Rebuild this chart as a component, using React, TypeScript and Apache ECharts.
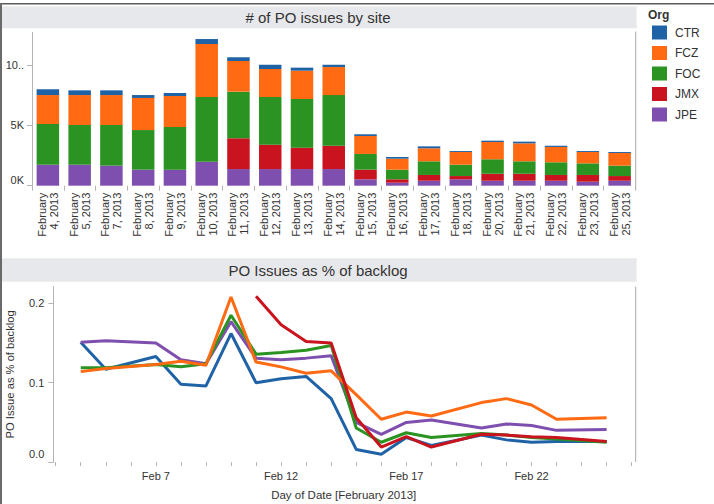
import React, { useEffect, useRef } from "react";
import * as echarts from "echarts";

const FONT = "'Liberation Sans', Arial, sans-serif";

// Dates present in the data (February 2013)
const dates = [
  "2013-02-04", "2013-02-05", "2013-02-07", "2013-02-08", "2013-02-09", "2013-02-10",
  "2013-02-11", "2013-02-12", "2013-02-13", "2013-02-14", "2013-02-15", "2013-02-16",
  "2013-02-17", "2013-02-18", "2013-02-20", "2013-02-21", "2013-02-22", "2013-02-23",
  "2013-02-25",
];

const orgs = ["CTR", "FCZ", "FOC", "JMX", "JPE"];
const orgColors = ["#1F62A6", "#FF6A13", "#2A9322", "#C9141F", "#7E4FAE"];

// # of PO issues by site (counts)
const issuesCTR = [480, 390, 390, 240, 250, 410, 310, 350, 250, 190, 140, 140, 160, 80, 110, 140, 100, 80, 80];
const issuesFCZ = [2400, 2480, 2480, 2660, 2570, 4390, 2540, 2320, 2350, 2320, 1490, 910, 1080, 1050, 1430, 1490, 1270, 940, 1050];
const issuesFOC = [3370, 3290, 3370, 3280, 3530, 5360, 3860, 3950, 4030, 4200, 1300, 800, 1130, 940, 1200, 1030, 1050, 960, 860];
const issuesJMX = [0, 0, 0, 0, 0, 0, 2550, 2020, 1770, 1930, 800, 280, 480, 270, 580, 580, 480, 560, 390];
const issuesJPE = [1740, 1740, 1660, 1330, 1330, 1990, 1380, 1380, 1380, 1380, 530, 250, 410, 530, 410, 410, 410, 330, 410];

// PO issues as % of backlog
const pctCTR = [0.151, 0.117, 0.133, 0.098, 0.096, 0.162, 0.100, 0.105, 0.108, 0.080, 0.016, 0.010, 0.031, 0.021, 0.034, 0.028, 0.025, 0.026, 0.026];
const pctFCZ = [0.114, 0.118, 0.123, 0.127, 0.122, 0.208, 0.126, 0.120, 0.112, 0.115, 0.085, 0.054, 0.063, 0.058, 0.075, 0.080, 0.072, 0.054, 0.056];
const pctFOC = [0.119, 0.119, 0.123, 0.120, 0.124, 0.185, 0.136, 0.138, 0.141, 0.147, 0.043, 0.025, 0.037, 0.031, 0.036, 0.034, 0.031, 0.029, 0.025];
const pctJMX = [null, null, null, null, null, null, 0.209, 0.173, 0.152, 0.150, 0.056, 0.019, 0.032, 0.019, 0.035, 0.034, 0.032, 0.031, 0.026];
const pctJPE = [0.151, 0.153, 0.150, 0.129, 0.124, 0.177, 0.131, 0.129, 0.131, 0.134, 0.050, 0.035, 0.050, 0.053, 0.043, 0.048, 0.046, 0.040, 0.041];

const topTicks = [0, 5000, 10000];
const topTickLabels = ["0K", "5K", "10.."];
const bottomTicks = [0, 0.1, 0.2];
const bottomTickLabels = ["0.0", "0.1", "0.2"];
const dayLabelDays = [7, 12, 17, 22];

const TITLE_TOP = "# of PO issues by site";
const TITLE_BOTTOM = "PO Issues as % of backlog";

export default function App() {
  const ref = useRef<HTMLDivElement>(null);

  useEffect(() => {
    if (!ref.current) return;
    const chart = echarts.init(ref.current, undefined, { renderer: "svg" });

    const days = dates.map((d) => parseInt(d.slice(8), 10));
    const catLabels = dates.map((d) => `February\n${parseInt(d.slice(8), 10)}, ${d.slice(0, 4)}`);

    const barData: Record<string, number[]> = {
      CTR: issuesCTR, FCZ: issuesFCZ, FOC: issuesFOC, JMX: issuesJMX, JPE: issuesJPE,
    };
    const lineData: Record<string, (number | null)[]> = {
      CTR: pctCTR, FCZ: pctFCZ, FOC: pctFOC, JMX: pctJMX, JPE: pctJPE,
    };
    const colorOf = (n: string) => orgColors[orgs.indexOf(n)];

    const stackOrder = ["JPE", "JMX", "FOC", "FCZ", "CTR"];
    const barSeries = stackOrder.map((n) => ({
      name: n,
      type: "bar",
      xAxisIndex: 0,
      yAxisIndex: 0,
      stack: "issues",
      barWidth: 22.5,
      itemStyle: { color: colorOf(n) },
      data: barData[n],
    }));

    const lineOrder = ["CTR", "JPE", "FOC", "FCZ", "JMX"];
    const lineSeries = lineOrder.map((n) => ({
      name: n,
      type: "line",
      xAxisIndex: 1,
      yAxisIndex: 1,
      showSymbol: false,
      symbol: "none",
      connectNulls: false,
      lineStyle: { color: colorOf(n), width: 3 },
      itemStyle: { color: colorOf(n) },
      data: days.map((d, i) => [d, lineData[n][i]]),
    }));

    const axisGray = "#b4b4b4";
    const textColor = "#333";

    const option = {
      animation: false,
      textStyle: { fontFamily: FONT },
      grid: [
        { left: 32, right: 78.5, top: 32.4, bottom: 318.3, containLabel: false, outerBoundsMode: "none" },
        { left: 55.7, right: 82.3, top: 286.7, bottom: 41.9, containLabel: false, outerBoundsMode: "none" },
      ],
      legend: {
        data: orgs,
        orient: "vertical",
        left: 647,
        top: 20.5,
        itemWidth: 15,
        itemHeight: 14,
        itemGap: 6.5,
        icon: "rect",
        selectedMode: false,
        textStyle: { fontSize: 12, color: textColor, fontFamily: FONT, padding: [0, 0, 0, 3] },
      },
      xAxis: [
        {
          type: "category",
          gridIndex: 0,
          data: catLabels,
          axisLine: { show: false },
          axisTick: { show: true, length: 5, lineStyle: { color: axisGray } },
          axisLabel: {
            rotate: 90,
            interval: 0,
            fontSize: 11,
            lineHeight: 12,
            color: textColor,
            margin: 7,
            fontFamily: FONT,
          },
          splitLine: { show: false },
        },
        {
          type: "value",
          gridIndex: 1,
          min: 3,
          max: 26,
          interval: 1,
          axisLine: { show: false },
          axisTick: { show: true, length: 4, lineStyle: { color: axisGray } },
          axisLabel: {
            customValues: dayLabelDays,
            formatter: (v: number) => `Feb ${v}`,
            fontSize: 11,
            color: textColor,
            margin: 8,
            fontFamily: FONT,
          },
          splitLine: { show: false },
          name: "Day of Date [February 2013]",
          nameLocation: "middle",
          nameGap: 26.5,
          nameTextStyle: { fontSize: 11.5, color: textColor, fontFamily: FONT },
        },
      ],
      yAxis: [
        {
          type: "value",
          gridIndex: 0,
          min: 0,
          max: 12700,
          axisLine: { show: true, lineStyle: { color: axisGray } },
          axisTick: { show: true, length: 5, customValues: topTicks, lineStyle: { color: axisGray } },
          axisLabel: {
            customValues: topTicks,
            formatter: (v: number) => {
              const i = topTicks.indexOf(v);
              const s = i >= 0 ? topTickLabels[i] : "";
              return v === 0 ? `{z|${s}}` : s;
            },
            rich: { z: { fontSize: 11, color: textColor, fontFamily: FONT, padding: [0, 0, 11, 0] } },
            fontSize: 11,
            color: textColor,
            margin: 8,
            fontFamily: FONT,
          },
          splitLine: { show: false },
        },
        {
          type: "value",
          gridIndex: 1,
          min: 0,
          max: 0.221,
          offset: 2.4,
          axisLine: { show: true, lineStyle: { color: axisGray } },
          axisTick: { show: true, length: 5, customValues: bottomTicks, lineStyle: { color: axisGray } },
          axisLabel: {
            customValues: bottomTicks,
            formatter: (v: number) => {
              const i = bottomTicks.findIndex((t) => Math.abs(t - v) < 1e-9);
              const s = i >= 0 ? bottomTickLabels[i] : "";
              return i === 0 ? `{z|${s}}` : s;
            },
            rich: { z: { fontSize: 11, color: textColor, fontFamily: FONT, padding: [0, 0, 16, 0] } },
            fontSize: 11,
            color: textColor,
            margin: 9,
            fontFamily: FONT,
          },
          splitLine: { show: false },
          name: "PO Issue as % of backlog",
          nameLocation: "middle",
          nameGap: 37.5,
          nameTextStyle: { fontSize: 11.2, color: textColor, fontFamily: FONT },
        },
      ],
      graphic: [
        { type: "rect", silent: true, shape: { x: 0, y: 3, width: 714, height: 1.5 }, style: { fill: "#5c5c5c" } },
        { type: "rect", silent: true, shape: { x: 0, y: 3, width: 2, height: 501 }, style: { fill: "#6a6a6a" } },
        { type: "rect", silent: true, shape: { x: 2, y: 6.5, width: 634.7, height: 21.8 }, style: { fill: "#E7E8EB" } },
        { type: "rect", silent: true, shape: { x: 2, y: 258.3, width: 634.7, height: 23.4 }, style: { fill: "#E7E8EB" } },
        {
          type: "text", silent: true, x: 318, y: 17.2,
          style: { text: TITLE_TOP, fontSize: 15, fill: textColor, fontFamily: FONT, textAlign: "center", textVerticalAlign: "middle" },
        },
        {
          type: "text", silent: true, x: 318, y: 270.2,
          style: { text: TITLE_BOTTOM, fontSize: 15, fill: textColor, fontFamily: FONT, textAlign: "center", textVerticalAlign: "middle" },
        },
        { type: "line", silent: true, shape: { x1: 635.7, y1: 31.5, x2: 635.7, y2: 190 }, style: { stroke: "#a8a8a8", lineWidth: 1 } },
        { type: "line", silent: true, shape: { x1: 635.7, y1: 286.7, x2: 635.7, y2: 462 }, style: { stroke: "#a8a8a8", lineWidth: 1 } },
        {
          type: "text", silent: true, x: 648, y: 14.5,
          style: { text: "Org", fontSize: 12, fontWeight: "bold", fill: textColor, fontFamily: FONT, textAlign: "left", textVerticalAlign: "middle" },
        },
      ],
      series: [...barSeries, ...lineSeries],
    };

    chart.setOption(option as any);
    return () => chart.dispose();
  }, []);

  return (
    <div
      ref={ref}
      style={{ position: "fixed", left: 0, top: 0, width: 714, height: 504, background: "#fff" }}
    />
  );
}
